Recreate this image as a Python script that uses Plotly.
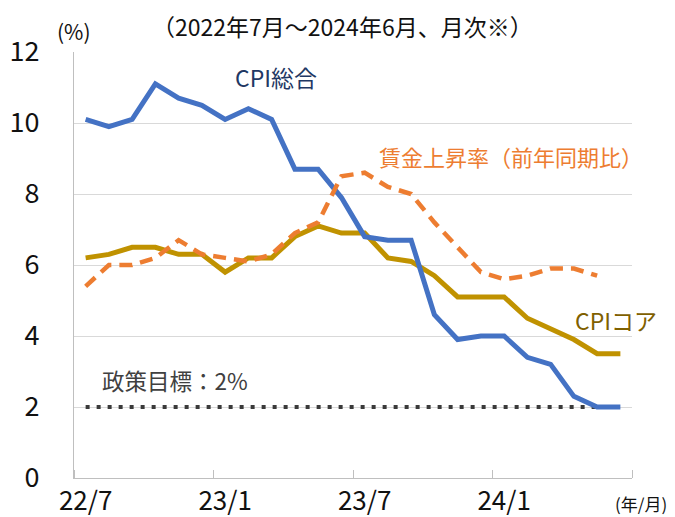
import plotly.graph_objects as go

months = ["22/7","22/8","22/9","22/10","22/11","22/12",
          "23/1","23/2","23/3","23/4","23/5","23/6",
          "23/7","23/8","23/9","23/10","23/11","23/12",
          "24/1","24/2","24/3","24/4","24/5","24/6"]
cpi_total = [10.1, 9.9, 10.1, 11.1, 10.7, 10.5, 10.1, 10.4, 10.1, 8.7, 8.7, 7.9,
             6.8, 6.7, 6.7, 4.6, 3.9, 4.0, 4.0, 3.4, 3.2, 2.3, 2.0, 2.0]
cpi_core = [6.2, 6.3, 6.5, 6.5, 6.3, 6.3, 5.8, 6.2, 6.2, 6.8, 7.1, 6.9,
            6.9, 6.2, 6.1, 5.7, 5.1, 5.1, 5.1, 4.5, 4.2, 3.9, 3.5, 3.5]
wages = [5.4, 6.0, 6.0, 6.2, 6.7, 6.3, 6.2, 6.1, 6.3, 6.9, 7.2, 8.5,
         8.6, 8.2, 8.0, 7.2, 6.5, 5.8, 5.6, 5.7, 5.9, 5.9, 5.7, None]
target = [2.0] * 24
tick_months = ["22/7", "23/1", "23/7", "24/1"]

x = list(range(len(months)))
tick_idx = [months.index(m) for m in tick_months]
FONT = "Noto Sans CJK JP"

fig = go.Figure()
fig.add_trace(go.Scatter(x=x, y=target, mode="lines",
                         line=dict(color="#3a3a3a", width=4, dash="4px,7px"),
                         hoverinfo="skip"))
fig.add_trace(go.Scatter(x=x, y=cpi_core, mode="lines",
                         line=dict(color="#C09200", width=5)))
fig.add_trace(go.Scatter(x=x, y=cpi_total, mode="lines",
                         line=dict(color="#4472C4", width=5)))
fig.add_trace(go.Scatter(x=x, y=wages, mode="lines",
                         line=dict(color="#ED7D31", width=4.5, dash="13px,8px")))

# page body has an 8px margin, so the figure is 8px smaller and offset
fig.update_layout(
    width=667, height=509,
    margin=dict(l=66, r=43, t=44, b=39, autoexpand=False),
    plot_bgcolor="white", paper_bgcolor="white",
    showlegend=False,
    font=dict(family=FONT, color="#111111"),
)
fig.update_xaxes(
    range=[-0.5, len(months) - 0.5], automargin=False,
    tickmode="array", tickvals=tick_idx, ticktext=tick_months,
    ticks="", tickfont=dict(size=26, color="#111111"),
    ticklabelstandoff=0,
    showgrid=False, zeroline=False,
    showline=True, linecolor="#BFBFBF", linewidth=1,
    minor=dict(tick0=-0.5, dtick=6, ticks="inside", ticklen=8,
               tickcolor="#BFBFBF", tickwidth=1, showgrid=False),
)
fig.update_yaxes(
    range=[0, 12], dtick=2, tick0=0, automargin=False,
    tickfont=dict(size=27, color="#111111"),
    ticklabelstandoff=28,
    showgrid=True, gridcolor="#D9D9D9", gridwidth=1,
    zeroline=False, showline=True, linecolor="#BFBFBF", linewidth=1,
)

def ann(text, xp, yp, size, color, xanchor="center"):
    fig.add_annotation(text=text, xref="paper", yref="paper", x=xp, y=yp,
                       xanchor=xanchor, yanchor="middle", showarrow=False,
                       font=dict(family=FONT, size=size, color=color))

ann("（2022年7月～2024年6月、月次※）", 0.482, 1.061, 23, "#111111")
ann("(%)", 0.0, 1.049, 21, "#111111")
ann("CPI総合", 0.362, 0.941, 23, "#1F3864")
ann("賃金上昇率（前年同期比）", 0.783, 0.756, 22, "#ED7D31")
ann("CPIコア", 0.971, 0.371, 23, "#7F6000")
ann("政策目標：2%", 0.181, 0.230, 22.5, "#404040")
ann("(年/月)", 1.017, -0.0587, 17, "#111111")

fig.write_html("out.html")
